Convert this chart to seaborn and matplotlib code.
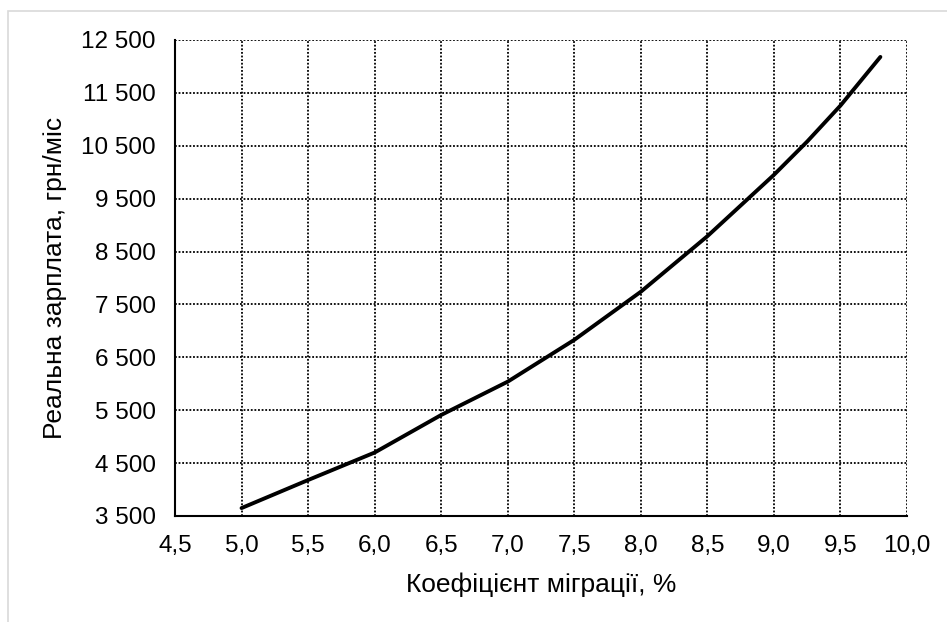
import numpy as np
import pandas as pd
import seaborn as sns
import matplotlib.pyplot as plt
from matplotlib.ticker import FuncFormatter, MultipleLocator
from matplotlib.patches import Rectangle

# values
migration = [5.0, 5.5, 6.0, 6.5, 7.0, 7.5, 8.0, 8.5, 8.75, 9.0, 9.25, 9.5, 9.65, 9.8]
wage = [3650, 4180, 4700, 5410, 6040, 6830, 7740, 8790, 9370, 9950, 10580, 11260, 11720, 12180]
y_ticks = [3500, 4500, 5500, 6500, 7500, 8500, 9500, 10500, 11500, 12500]

df = pd.DataFrame({"migration": migration, "wage": wage})

sns.set_style("white")
plt.rcParams["font.family"] = ["Liberation Sans", "DejaVu Sans"]

fig = plt.figure(figsize=(9.47, 6.22), dpi=100)
ax = fig.add_axes([175 / 947, 1 - 516 / 622, (907 - 175) / 947, (516 - 40) / 622])

# light grey frame around the chart area
fig.patches.append(Rectangle((8 / 947, -0.1), 1.2, 1 - 11 / 622 + 0.1,
                             transform=fig.transFigure, fill=False,
                             edgecolor="#d9d9d9", linewidth=1.2))

sns.lineplot(data=df, x="migration", y="wage", color="black", linewidth=2.8, ax=ax)
ax.lines[0].set_solid_joinstyle("round")

ax.set_xlim(4.5, 10.0)
ax.set_ylim(3500, 12500)
ax.xaxis.set_major_locator(MultipleLocator(0.5))
ax.set_yticks(y_ticks)
ax.xaxis.set_major_formatter(FuncFormatter(lambda v, p: f"{v:.1f}".replace(".", ",")))
ax.yaxis.set_major_formatter(FuncFormatter(lambda v, p: f"{v:,.0f}".replace(",", " ")))

ax.grid(True, color="black", linestyle=(0, (1, 1)), linewidth=1.3)
ax.set_axisbelow(True)

for side in ["top", "right"]:
    ax.spines[side].set_visible(False)
for side in ["left", "bottom"]:
    ax.spines[side].set_color("black")
    ax.spines[side].set_linewidth(1.5)

ax.tick_params(axis="both", direction="out", length=5, width=1.5, color="black",
               labelsize=17.5, labelcolor="black")
ax.tick_params(axis="x", pad=9)
ax.tick_params(axis="y", pad=9)

ax.set_xlabel("Коефіцієнт міграції, %", fontsize=19, color="black", labelpad=11)
ax.set_ylabel("Реальна зарплата, грн/міс", fontsize=19, color="black", labelpad=10)

fig.savefig("out.png", dpi=100)
